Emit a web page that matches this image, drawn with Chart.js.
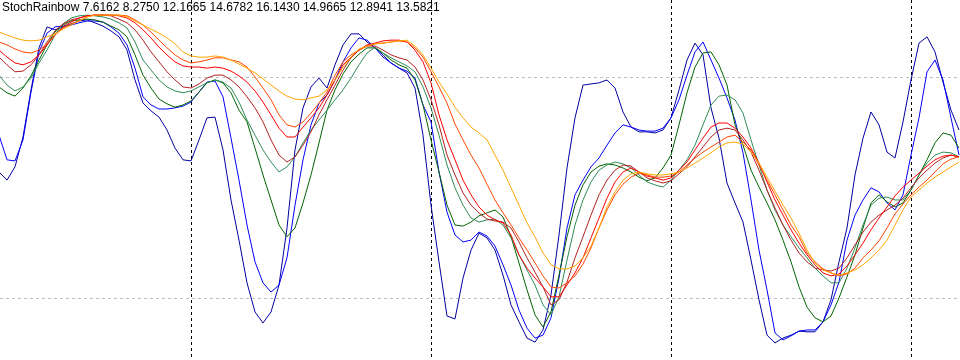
<!DOCTYPE html>
<html>
<head>
<meta charset="utf-8">
<title>StochRainbow</title>
<script src="https://cdn.jsdelivr.net/npm/chart.js@4.4.1/dist/chart.umd.min.js"></script>
<style>
  html, body { margin: 0; padding: 0; background: #fff; }
  #wrap { position: relative; width: 960px; height: 360px; overflow: hidden; }
  #caption {
    position: absolute; left: 2px; top: 1px;
    font: 12px "Liberation Sans", Arial, sans-serif; line-height: 12px;
    color: #000; white-space: pre; pointer-events: none;
  }
</style>
</head>
<body>
<div id="wrap">
  <canvas id="chart" width="960" height="360"></canvas>
  <div id="caption"></div>
</div>
<script>
"use strict";

// indicator name and the readout shown in the sub-window header
const indicatorName = "StochRainbow";
const readout = ["7.6162", "8.2750", "12.1665", "14.6782", "16.1430", "14.9665", "12.8941", "13.5821"];

// bar index of every candle in view, and where the period separators fall
const bars = Array.from({ length: 121 }, (_, i) => i);
const separators = [24, 54, 84, 114];
const levels = [20, 80];

const stochNavy = [
  54.3, 52.1, 55.7, 63.8, 76.6, 88.0, 93.7, 92.9, 93.7, 94.5, 95.3, 95.6, 94.8, 93.9, 92.6, 91.0,
  87.4, 79.3, 73.0, 70.9, 69.2, 65.7, 60.8, 57.6, 57.3, 63.0, 69.0, 69.2, 60.3, 46.7, 35.8, 24.2,
  16.3, 13.3, 16.3, 23.6, 39.1, 60.3, 71.7, 77.4, 79.8, 77.1, 83.4, 88.8, 91.8, 91.8, 89.6, 88.0,
  86.1, 83.9, 82.5, 81.2, 77.1, 64.3, 45.3, 29.9, 15.2, 14.4, 25.5, 33.1, 37.7, 36.4, 33.1, 26.3,
  18.2, 13.6, 9.2, 8.1, 11.4, 20.9, 37.2, 55.4, 69.0, 77.9, 78.2, 78.5, 79.3, 77.1, 70.6, 66.5,
  65.2, 65.2, 64.9, 65.7, 69.0, 76.6, 84.7, 89.3, 86.1, 71.7, 63.5, 51.3, 45.9, 40.7, 30.4, 19.6,
  10.0, 7.9, 9.2, 10.0, 11.1, 10.9, 10.9, 13.6, 19.6, 29.9, 39.1, 53.5, 63.5, 70.6, 67.1, 59.7,
  58.1, 67.9, 79.3, 89.3, 91.0, 86.9, 78.7, 71.1, 65.7
];
const stochBlue = [
  64.3, 57.6, 57.3, 63.0, 76.0, 86.9, 92.0, 93.7, 93.9, 94.2, 94.8, 95.3, 95.3, 95.0, 93.7, 92.0,
  88.8, 82.5, 74.7, 72.5, 71.4, 71.4, 71.7, 72.2, 73.3, 76.0, 78.7, 79.0, 74.7, 63.5, 52.1, 39.9,
  29.9, 24.2, 21.7, 23.6, 31.0, 45.3, 57.6, 67.1, 73.0, 75.2, 79.3, 84.2, 88.0, 90.7, 90.1, 88.0,
  85.5, 83.9, 82.5, 81.7, 79.8, 72.5, 67.9, 54.3, 43.4, 37.2, 35.3, 35.8, 38.0, 36.9, 34.2, 29.1,
  23.6, 16.8, 11.9, 9.2, 10.0, 14.7, 25.5, 39.1, 48.1, 52.1, 55.7, 58.1, 61.6, 64.9, 67.1, 66.5,
  65.7, 65.4, 65.4, 66.2, 69.0, 73.9, 80.6, 86.9, 89.6, 84.7, 79.8, 74.4, 68.4, 59.5, 46.7, 33.1,
  22.3, 10.6, 8.7, 9.8, 11.1, 11.4, 11.4, 13.6, 18.2, 24.4, 35.8, 42.6, 46.7, 50.0, 48.9, 45.9,
  44.0, 48.1, 58.9, 69.0, 81.5, 84.7, 79.3, 69.0, 58.9
];
const stochDarkGreen = [
  77.4, 75.8, 74.9, 77.1, 80.4, 84.7, 88.8, 92.3, 94.2, 95.3, 95.6, 95.8, 95.6, 95.0, 93.9, 92.9,
  91.0, 86.1, 80.6, 77.1, 74.1, 72.8, 71.9, 72.5, 73.6, 76.0, 78.5, 79.3, 78.5, 75.8, 71.1, 67.9,
  60.8, 53.5, 46.7, 39.9, 36.7, 39.1, 45.9, 53.5, 62.2, 71.1, 76.6, 80.9, 84.2, 86.3, 88.0, 88.0,
  86.6, 84.7, 83.4, 82.5, 79.3, 72.5, 63.0, 54.3, 45.3, 39.9, 39.6, 40.7, 42.4, 43.2, 44.0, 42.1,
  36.7, 29.6, 22.3, 15.5, 12.2, 16.3, 26.3, 36.7, 45.3, 50.8, 54.3, 55.9, 56.5, 56.2, 55.4, 54.3,
  52.9, 51.9, 52.7, 55.4, 58.9, 67.1, 75.8, 82.8, 86.6, 86.9, 83.4, 77.9, 67.1, 61.6, 54.8, 50.2,
  45.9, 41.3, 35.8, 29.9, 23.1, 17.6, 14.7, 13.6, 15.2, 20.1, 25.8, 31.8, 39.1, 45.9, 48.1, 46.2,
  44.8, 45.9, 49.4, 53.5, 57.6, 62.2, 64.9, 64.3, 60.8
];
const stochSeaGreen = [
  80.6, 77.9, 76.3, 77.4, 79.8, 83.9, 87.4, 91.5, 94.5, 96.1, 96.7, 96.9, 96.7, 96.4, 95.8, 94.8,
  93.4, 89.6, 84.7, 82.0, 79.3, 77.4, 76.3, 75.8, 76.3, 77.4, 78.5, 79.3, 78.7, 77.1, 73.3, 68.4,
  64.3, 60.3, 57.0, 54.3, 55.7, 58.4, 62.2, 65.7, 68.4, 71.1, 73.9, 76.6, 79.8, 83.4, 86.6, 88.2,
  86.6, 85.3, 84.2, 83.1, 81.5, 77.4, 71.7, 64.3, 56.2, 50.0, 45.3, 41.8, 40.7, 41.3, 41.5, 39.9,
  36.4, 31.8, 27.7, 23.6, 18.2, 15.5, 20.4, 30.4, 39.9, 46.7, 51.6, 54.8, 56.2, 57.0, 56.5, 55.4,
  53.5, 51.6, 50.8, 50.2, 52.1, 54.8, 57.6, 61.6, 67.1, 72.5, 74.9, 75.2, 73.9, 70.3, 63.0, 56.2,
  49.4, 44.0, 39.9, 36.7, 33.7, 31.0, 28.2, 26.1, 24.2, 24.2, 28.2, 33.7, 39.9, 45.3, 47.2, 47.5,
  46.7, 46.7, 49.4, 53.5, 56.7, 58.9, 59.7, 59.5, 58.4
];
const stochFireBrick = [
  85.5, 83.4, 81.5, 81.7, 83.4, 86.1, 89.6, 92.6, 94.5, 95.6, 96.1, 96.7, 96.9, 96.9, 96.7, 95.8,
  94.8, 92.9, 90.1, 86.9, 84.2, 81.5, 79.3, 77.4, 77.1, 78.2, 79.8, 80.6, 80.6, 79.3, 77.4, 74.7,
  71.7, 67.9, 63.0, 58.9, 57.0, 58.4, 61.6, 65.2, 69.8, 73.9, 77.9, 82.0, 85.3, 87.4, 88.5, 88.5,
  87.4, 86.1, 85.3, 84.7, 82.8, 79.3, 73.9, 67.1, 58.9, 53.5, 48.6, 45.3, 43.2, 41.5, 41.0, 40.7,
  39.1, 35.3, 31.0, 27.1, 23.1, 18.2, 19.6, 24.4, 31.0, 36.7, 42.6, 48.1, 52.1, 54.8, 56.2, 55.9,
  54.3, 52.7, 51.9, 51.3, 51.9, 53.8, 55.7, 58.4, 61.1, 63.8, 65.7, 66.2, 65.7, 63.0, 59.7, 54.8,
  49.4, 44.5, 39.9, 35.8, 32.3, 29.9, 28.2, 27.7, 27.4, 28.2, 31.0, 34.5, 38.0, 40.7, 42.6, 44.0,
  45.3, 47.2, 50.0, 52.7, 54.8, 56.7, 58.1, 58.9, 58.4
];
const stochRed = [
  87.4, 85.5, 83.9, 83.4, 84.2, 86.1, 88.8, 91.5, 93.7, 95.0, 96.1, 96.7, 96.9, 96.9, 96.9, 96.7,
  96.1, 94.8, 92.9, 90.7, 88.2, 86.1, 84.2, 83.1, 82.8, 82.8, 82.5, 82.8, 82.5, 81.7, 80.4, 78.7,
  76.3, 73.3, 69.8, 66.2, 63.8, 63.8, 66.5, 69.0, 71.7, 75.2, 79.3, 83.4, 85.5, 87.4, 88.8, 89.3,
  89.9, 90.1, 90.1, 89.6, 87.4, 84.2, 78.5, 69.8, 63.0, 57.6, 52.1, 48.1, 44.8, 42.6, 41.3, 40.5,
  37.2, 31.8, 28.2, 25.5, 23.1, 20.4, 20.4, 23.6, 26.9, 31.0, 36.4, 41.8, 47.2, 51.6, 54.3, 55.4,
  54.3, 53.2, 52.7, 52.1, 52.7, 54.8, 57.0, 60.3, 63.5, 66.5, 67.6, 67.6, 66.2, 63.8, 60.8, 56.7,
  51.6, 46.7, 42.6, 38.6, 35.0, 31.8, 29.1, 26.9, 26.1, 26.6, 28.8, 31.8, 35.0, 38.6, 41.8, 44.8,
  47.8, 50.2, 52.1, 54.0, 55.9, 57.6, 58.6, 58.9, 58.4
];
const stochOrangeRed = [
  89.6, 88.8, 87.7, 86.9, 86.6, 87.4, 89.1, 91.5, 93.4, 94.5, 95.3, 96.4, 96.9, 96.9, 96.9, 96.9,
  96.7, 95.6, 94.2, 92.3, 90.1, 88.0, 86.1, 84.7, 83.9, 84.2, 84.7, 85.3, 85.3, 84.7, 84.2, 82.8,
  80.1, 77.1, 73.9, 69.8, 67.1, 66.5, 67.9, 70.3, 73.0, 76.0, 80.6, 84.2, 86.1, 87.4, 88.5, 89.1,
  89.3, 89.6, 89.9, 89.6, 88.0, 85.5, 81.5, 77.4, 73.0, 67.3, 63.0, 58.9, 55.4, 51.0, 46.7, 43.2,
  39.9, 36.4, 33.1, 29.6, 26.1, 23.1, 22.8, 24.2, 26.1, 29.3, 33.7, 39.1, 44.0, 48.1, 51.0, 52.9,
  54.0, 53.5, 52.9, 52.9, 53.2, 54.3, 56.2, 58.1, 59.7, 61.1, 62.4, 63.8, 64.3, 62.4, 60.3, 56.2,
  52.1, 48.1, 44.0, 39.9, 36.7, 32.3, 29.9, 28.0, 26.9, 26.1, 26.6, 28.2, 31.0, 33.1, 35.6, 39.1,
  42.9, 45.6, 48.1, 50.2, 52.1, 54.3, 56.5, 57.8, 58.4
];
const stochOrange = [
  92.3, 91.5, 90.7, 90.1, 89.9, 90.1, 91.0, 91.8, 93.1, 94.2, 95.3, 96.4, 96.9, 96.9, 96.9, 96.9,
  96.4, 95.3, 94.2, 93.1, 92.0, 90.7, 89.1, 86.9, 85.8, 85.5, 85.5, 85.8, 85.5, 84.7, 83.6, 82.5,
  81.2, 79.6, 77.9, 76.3, 74.9, 74.1, 73.9, 74.4, 74.9, 76.6, 79.3, 82.8, 85.5, 87.7, 88.5, 89.1,
  89.3, 89.6, 89.9, 90.1, 88.5, 86.1, 82.5, 78.7, 75.5, 71.9, 69.0, 66.5, 64.9, 63.0, 58.9, 54.8,
  50.0, 45.3, 40.5, 36.7, 32.3, 29.1, 28.0, 28.0, 28.8, 31.0, 34.2, 39.1, 44.8, 48.9, 52.1, 53.8,
  54.3, 53.8, 53.5, 53.5, 53.8, 54.3, 55.4, 56.7, 58.1, 59.5, 61.1, 62.2, 62.4, 61.9, 59.7, 56.7,
  52.9, 49.1, 45.3, 41.8, 37.7, 33.1, 29.6, 27.7, 26.9, 26.3, 26.9, 27.7, 29.1, 31.0, 33.1, 35.8,
  39.9, 44.0, 47.5, 49.4, 51.3, 52.9, 54.3, 55.7, 57.0
];

const series = [
  { name: "Navy", data: stochNavy, color: "#0000a0" },
  { name: "Blue", data: stochBlue, color: "#0000ff" },
  { name: "DarkGreen", data: stochDarkGreen, color: "#006400" },
  { name: "SeaGreen", data: stochSeaGreen, color: "#2e8b57" },
  { name: "FireBrick", data: stochFireBrick, color: "#b22222" },
  { name: "Red", data: stochRed, color: "#ff0000" },
  { name: "OrangeRed", data: stochOrangeRed, color: "#ff4500" },
  { name: "Orange", data: stochOrange, color: "#ffa500" }
];

document.getElementById("caption").textContent = [indicatorName].concat(readout).join(" ");

new Chart(document.getElementById("chart"), {
  type: "line",
  data: {
    labels: bars,
    datasets: series.map((s, k) => ({
      label: s.name,
      data: s.data,
      borderColor: s.color,
      borderWidth: 1,
      pointRadius: 0,
      tension: 0,
      fill: false,
      order: series.length - k
    }))
  },
  options: {
    responsive: false,
    animation: false,
    events: [],
    layout: { padding: 0 },
    plugins: {
      legend: { display: false },
      tooltip: { enabled: false }
    },
    scales: {
      x: {
        type: "linear",
        min: 0.125,
        max: 120.125,
        afterBuildTicks: (scale) => { scale.ticks = separators.map((v) => ({ value: v })); },
        afterFit: (scale) => { scale.height = 0; },
        ticks: { display: false },
        grid: { color: "#000000", lineWidth: 1, drawTicks: false },
        border: { display: false, dash: [3, 3] }
      },
      y: {
        type: "linear",
        min: 3.25,
        max: 101,
        afterBuildTicks: (scale) => { scale.ticks = levels.map((v) => ({ value: v })); },
        afterFit: (scale) => { scale.width = 0; },
        ticks: { display: false },
        grid: { color: "#c0c0c0", lineWidth: 1, drawTicks: false },
        border: { display: false, dash: [3, 3] }
      }
    }
  }
});
</script>
</body>
</html>
